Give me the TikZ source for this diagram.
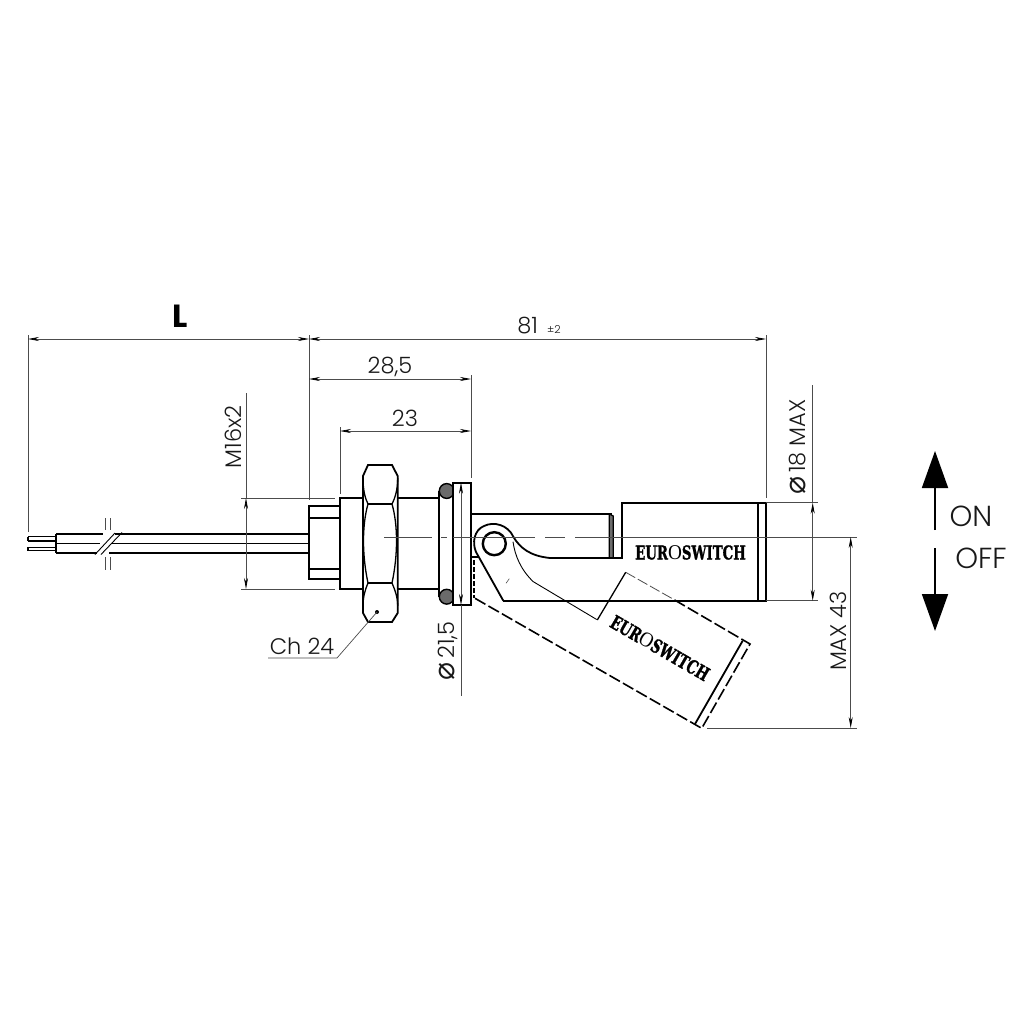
\documentclass[tikz,border=0pt]{standalone}
\usepackage{graphicx}
\usepackage{fontspec}
\setmainfont{Poppins Light}
\newfontfamily\boldlabel{Poppins}
\newfontfamily\logobold[FakeBold=1.5]{DejaVu Serif Bold}
\newfontfamily\logothin{Liberation Serif}
\newfontfamily\symfont{DejaVu Sans}
\usetikzlibrary{arrows.meta}
\definecolor{dimgrey}{gray}{0.3}
\definecolor{ringgrey}{gray}{0.42}
\tikzset{
  part/.style={draw=black,line width=1.8pt,line join=miter},
  partthin/.style={draw=black,line width=0.9pt},
  phantomline/.style={draw=black,line width=1.6pt,dash pattern=on 12pt off 3.5pt},
  phantomthin/.style={draw=dimgrey,line width=0.8pt,dash pattern=on 11pt off 3pt},
  dimline/.style={draw=dimgrey,line width=0.7pt},
  dimarrow/.style={dimline,{Stealth[length=11pt,width=4pt,black]}-{Stealth[length=11pt,width=4pt,black]}},
  centre/.style={draw=dimgrey,line width=0.7pt},
  dimtext/.style={inner sep=0pt,font=\fontsize{22.5}{24}\selectfont,text=black!90},
  statetext/.style={inner sep=0pt,font=\fontsize{29}{31}\selectfont,text=black!90},
  bigarrow/.style={draw=black,line width=1.8pt,-{Triangle[length=37pt,width=26pt]}}
}
\newcommand{\logotext}{\scalebox{0.74}[1.05]{\fontsize{18}{20}\selectfont\logobold EUR{\logothin\fontsize{20}{20}\selectfont\scalebox{1.3}[1]{O}}SWITCH}}
\newcommand{\diam}{{\symfont\fontsize{30}{26}\selectfont ⌀}}
\begin{document}
\begin{tikzpicture}[x=1pt,y=-1pt]
\useasboundingbox (0,0) rectangle (1024,1024);
\fill[white] (0,0) rectangle (1024,1024);

% cable
\draw[part,line width=1.4pt] (28,536.7) -- (56,536.7) (28,541) -- (56,541) (28,547.3) -- (56,547.3) (28,550.7) -- (56,550.7) (28,536.7) -- (28,541) (28,547.3) -- (28,550.7);
\draw[part] (56,534) -- (56,553);
\draw[part] (56,534) -- (103,534) (115,534) -- (309,534);
\draw[part] (56,543.5) -- (100,543.5) (111,543.5) -- (309,543.5);
\draw[part] (56,553) -- (97,553) (109,553) -- (309,553);
\draw[partthin] (95,554.5) -- (115,533) (101,554.5) -- (122,532.5);
\draw[draw=dimgrey,line width=.6pt] (105,518) -- (105,530) (110.7,518) -- (110.7,530) (105,557) -- (105,570) (110.7,557) -- (110.7,570);

% rear cap and body
\draw[part] (309,505.7) rectangle (340,579.3);
\draw[part] (309,518) -- (340,518) (309,569) -- (340,569);
\draw[part] (340,498) rectangle (363,589);
\draw[part] (398,498) -- (439,498) (398,589) -- (439,589);
\draw[part] (439,491) -- (439,597);

% O-rings
\draw[part,fill=ringgrey,line width=1.4pt] (446.7,491) circle (7.4);
\draw[part,fill=ringgrey,line width=1.4pt] (446.7,596.7) circle (7.4);

% nut
\draw[part,fill=white] (368,465) -- (392,465) -- (397.7,476) -- (397.7,613) -- (392,622) -- (368,622) -- (363,613) -- (363,476) -- cycle;
\draw[part] (368,504) -- (392,504) (368,583) -- (392,583);
\draw[part,line width=1.3pt] (363,478) .. controls (363,490) and (365,498) .. (368,504)
  (397.7,478) .. controls (397.7,490) and (395,498) .. (392,504)
  (368,504) .. controls (362,525) and (362,555) .. (368,583)
  (392,504) .. controls (398,525) and (398,555) .. (392,583)
  (368,583) .. controls (365,590) and (363,597) .. (363,606)
  (392,583) .. controls (395,590) and (397.7,597) .. (397.7,606);

% flange
\draw[part,fill=white] (453.3,482.7) rectangle (471,605);

% float, ON position
\draw[part] (471,514) -- (611.5,514);
\draw[part,fill=ringgrey,line width=1.2pt] (609.3,514) -- (613.3,516) -- (613.3,558) -- (609.3,558) -- cycle;
\draw[part] (550,558) -- (621.7,558) -- (621.7,502.7) -- (766,502.7) -- (766,600.7) -- (503.3,600.7);
\draw[part] (758.3,502.7) -- (758.3,600.7);
\node[inner sep=0pt] (logoon) at (690.5,552.5) {\logotext};

% pivot lever
\draw[part] (503.3,600.7) -- (476,552)
  .. controls (472,543) and (474,530) .. (484,526)
  .. controls (494,521) and (508,525) .. (513.3,536.7)
  .. controls (520,548) and (530,556) .. (550,558);
\draw[part,line width=2.4pt,fill=white] (494.3,543.7) circle (11.5);
\draw[partthin] (513,541.7) .. controls (515,556) and (521,570) .. (533.3,581.7) -- (596.7,619.5);

% float, OFF position
\draw[part] (471.7,557.3) -- (478,557.3);
\draw[phantomline,line width=1.4pt,dash pattern=on 5pt off 2pt] (474,560) -- (474,598.3);
\draw[phantomline] (475,598.3) -- (701.7,728.3) -- (750,644) -- (671.7,598.3);
\draw[phantomthin] (671.7,598.3) -- (625.7,572.3);
\draw[part,line width=1.3pt] (597.3,620) -- (625.7,572.3);
\draw[part] (695,724) -- (742.7,640.7);
\node[inner sep=0pt,rotate=-30] (logooff) at (660,648) {\logotext};
\draw[draw=dimgrey,line width=.6pt] (506,583.3) -- (509.3,578.7);

% centre line
\draw[centre] (384,537) -- (432,537) (441,537) -- (447,537) (453,537) -- (535,537) (545,537) -- (565,537) (575,537) -- (856.7,537);

% dimensions: L and 81
\coordinate (Lleft) at (28,339);
\coordinate (Lmid) at (309,339);
\coordinate (Lright) at (766,339);
\draw[dimline] (28,335) -- (28,532);
\draw[dimline] (309,335) -- (309,500);
\draw[dimline] (766,335) -- (766,498);
\draw[dimarrow] (Lleft) -- (Lmid);
\draw[dimarrow] (Lmid) -- (Lright);
\node[inner sep=0pt,font=\fontsize{32}{34}\selectfont\boldlabel\bfseries] (lbl) at (180,316) {L};
\node[dimtext] (l81) at (539,326) {81 {\fontsize{11}{12}\selectfont\ ±2}};

% 28,5 and 23
\draw[dimline] (340,427) -- (340,494);
\draw[dimline] (471,375) -- (471,478);
\coordinate (a1) at (309,379); \coordinate (a2) at (471,379);
\coordinate (b1) at (340,431); \coordinate (b2) at (471,431);
\draw[dimarrow] (a1) -- (a2);
\draw[dimarrow] (b1) -- (b2);
\node[dimtext] (l285) at (390,367) {28,5};
\node[dimtext] (l23) at (405,418) {23};

% M16x2
\draw[dimline] (241,498) -- (335,498) (241,589) -- (335,589);
\coordinate (m1) at (246,393); \coordinate (m2) at (246,498); \coordinate (m3) at (246,589);
\draw[dimline] (m1) -- (m2);
\draw[dimarrow] (m2) -- (m3);
\node[dimtext,rotate=90] (lm) at (233,437) {M16x2};

% diameter 18 MAX
\draw[dimline] (766,502.7) -- (818,502.7) (766,600.7) -- (818,600.7);
\coordinate (d1) at (812.7,385); \coordinate (d2) at (812.7,502.7); \coordinate (d3) at (812.7,600.7);
\draw[dimline] (d1) -- (d2);
\draw[dimarrow] (d2) -- (d3);
\node[dimtext,rotate=90] (l18) at (798,447) {\diam\,18 MAX};

% MAX 43
\draw[dimline] (707,728) -- (856.7,728);
\coordinate (e1) at (850.7,537); \coordinate (e2) at (850.7,728);
\draw[dimarrow] (e1) -- (e2);
\node[dimtext,rotate=90] (l43) at (838,631) {MAX 43};

% diameter 21,5
\coordinate (f1) at (461,482.7); \coordinate (f2) at (461,605); \coordinate (f3) at (461,696);
\draw[dimarrow] (f1) -- (f2);
\draw[dimline] (f2) -- (f3);
\node[dimtext,rotate=90] (l215) at (448,651) {\diam\,21,5};

% Ch 24
\coordinate (c1) at (377,612); \coordinate (c2) at (337,658); \coordinate (c3) at (268,658);
\fill (c1) circle (2);
\draw[dimline] (c1) -- (c2) -- (c3);
\node[dimtext] (lch) at (302,646) {Ch 24};

% ON / OFF
\coordinate (on1) at (935,530); \coordinate (on2) at (935,451);
\coordinate (off1) at (935,548); \coordinate (off2) at (935,631);
\draw[bigarrow] (on1) -- (on2);
\draw[bigarrow] (off1) -- (off2);
\node[statetext] (lon) at (971,516) {ON};
\node[statetext] (loff) at (981,558) {OFF};
\end{tikzpicture}
\end{document}
